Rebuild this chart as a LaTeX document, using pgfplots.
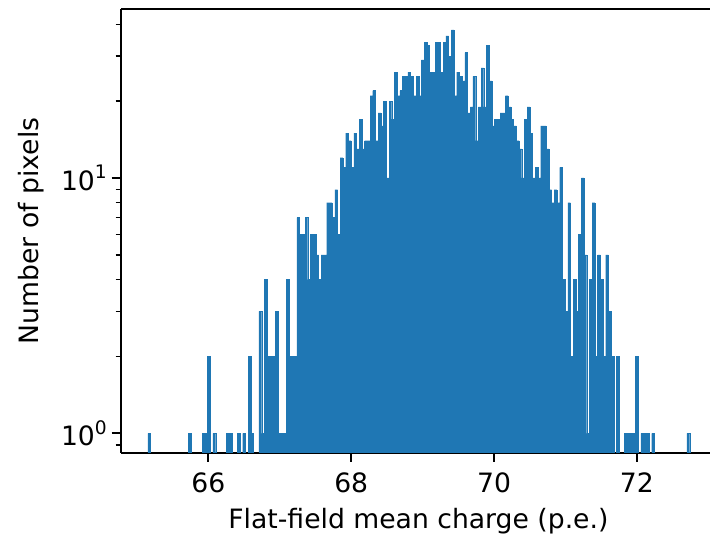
\documentclass[border=0pt]{standalone}
\usepackage{fontspec}
\setmainfont{DejaVu Sans}
\usepackage{pgfplots}
\pgfplotsset{compat=1.18}
\definecolor{mplblue}{HTML}{1F77B4}

\begin{document}
\begin{tikzpicture}
\begin{axis}[
    scale only axis,
    width=442.5pt, height=333.2pt,
    xmin=64.773, xmax=73.025,
    ymode=log, ymin=0.840, ymax=45.9,
    log origin y=infty,
    axis y line*=left,
    xtick pos=bottom,
    xtick={66,68,70,72},
    ytick={1,10},
    yticklabels={{10\raisebox{8.8pt}{\fontsize{14}{14}\selectfont 0}},{10\raisebox{8.8pt}{\fontsize{14}{14}\selectfont 1}}},
    minor ytick={0.9,2,3,4,5,6,7,8,9,20,30,40},
    tick align=outside,
    major tick length=7pt, minor tick length=4pt,
    every major tick/.style={black, line width=1.5pt},
    every minor tick/.style={black, line width=1.1pt},
    axis line style={line width=1.5pt},
    /pgf/number format/assume math mode=true,
    tick label style={font=\fontsize{20}{24}\selectfont},
    xticklabel style={yshift=-4.5pt},
    label style={font=\fontsize{20}{24}\selectfont},
    xlabel={Flat-field mean charge (p.e.)},
    ylabel={Number of pixels},
    xlabel style={at={(axis description cs:0.5051,-0.172)}, anchor=base},
    ylabel style={at={(axis description cs:-0.1525,0.5)}, anchor=center},
]
% histogram, 200 bins, bin width 0.037937; empty bins left out
\addplot[ybar, bar width=0.037937, bar shift=0pt, fill=mplblue, draw=mplblue, line width=0.2pt] coordinates {
    (65.171,1) (65.740,1) (65.930,1) (65.968,1) (66.006,2) (66.082,1)
    (66.272,1) (66.310,1) (66.423,1) (66.499,1) (66.575,2) (66.613,1)
    (66.727,3) (66.765,1) (66.803,4) (66.841,2) (66.879,2) (66.917,2)
    (66.954,3) (66.992,1) (67.030,1) (67.068,1) (67.106,4) (67.144,2)
    (67.182,2) (67.220,2) (67.258,7) (67.296,6) (67.334,6) (67.372,7)
    (67.410,4) (67.448,6) (67.486,6) (67.524,5) (67.561,4) (67.599,5)
    (67.637,5) (67.675,8) (67.713,8) (67.751,7) (67.789,9) (67.827,6)
    (67.865,12) (67.903,11) (67.941,15) (67.979,14) (68.017,11) (68.055,15)
    (68.093,13) (68.130,17) (68.168,13) (68.206,14) (68.244,14) (68.282,21)
    (68.320,22) (68.358,14) (68.396,18) (68.434,16) (68.472,20) (68.510,10)
    (68.548,20) (68.586,17) (68.624,26) (68.661,21) (68.699,22) (68.737,25)
    (68.775,25) (68.813,26) (68.851,25) (68.889,21) (68.927,25) (68.965,21)
    (69.003,29) (69.041,34) (69.079,33) (69.117,26) (69.155,26) (69.193,34)
    (69.230,34) (69.268,26) (69.306,34) (69.344,36) (69.382,30) (69.420,38)
    (69.458,21) (69.496,26) (69.534,25) (69.572,24) (69.610,31) (69.648,18)
    (69.686,19) (69.724,25) (69.762,14) (69.799,19) (69.837,27) (69.875,19)
    (69.913,33) (69.951,24) (69.989,16) (70.027,17) (70.065,17) (70.103,18)
    (70.141,18) (70.179,21) (70.217,19) (70.255,17) (70.293,16) (70.331,14)
    (70.368,13) (70.406,10) (70.444,17) (70.483,19) (70.521,15) (70.558,10)
    (70.596,11) (70.634,10) (70.672,16) (70.710,16) (70.748,13) (70.786,9)
    (70.824,8) (70.862,9) (70.900,8) (70.938,11) (70.976,4) (71.014,3)
    (71.052,8) (71.090,2) (71.127,4) (71.165,3) (71.203,6) (71.241,10)
    (71.279,5) (71.317,1) (71.355,4) (71.393,8) (71.431,2) (71.469,5)
    (71.507,4) (71.545,2) (71.583,5) (71.621,3) (71.659,2) (71.734,2)
    (71.848,1) (71.886,1) (71.924,1) (71.962,1) (72.000,2) (72.076,1)
    (72.114,1) (72.152,1) (72.228,1) (72.721,1)
};
\end{axis}
\path (current axis.south west) ++(-90.75pt,-60.5pt);
\path (current axis.north east) ++(0pt,6.75pt);
\end{tikzpicture}
\end{document}
